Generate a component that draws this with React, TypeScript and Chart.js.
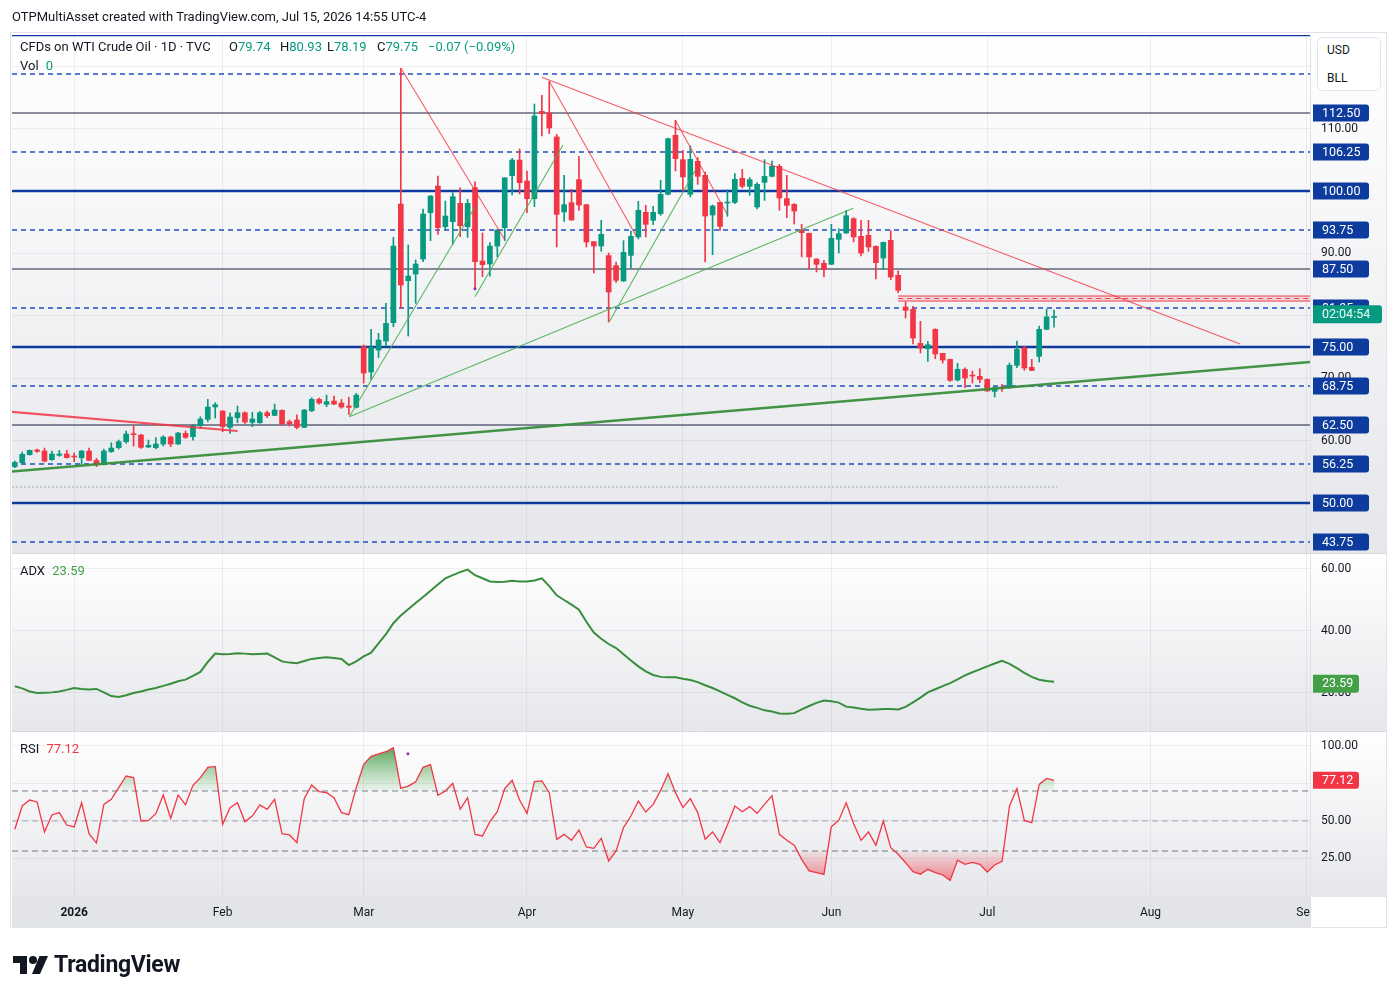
import React, { useEffect, useRef } from 'react';
import { Chart, registerables } from 'chart.js';

Chart.register(...registerables);

const FONT = 'Roboto, "Noto Sans", "DejaVu Sans", sans-serif';
const TXT = '#131722';
const UP = '#089981';
const DOWN = '#f23645';
const GRID = 'rgba(42,46,57,0.07)';

// ---------- data (bar index 0 = Dec 19 2025 ... 140 = Jul 15 2026) ----------
const openP = [
  55.82, 56.46, 57.74, 58.49, 58.33, 56.94, 57.64, 57.85, 57.53, 57.26,
  58.33, 56.83, 56.19, 58.22, 58.86, 59.83, 61.11, 60.89, 58.97, 58.86,
  59.45, 60.57, 59.45, 61.16, 60.63, 62.39, 63.41, 65.40, 64.74, 62.12,
  63.67, 64.47, 62.92, 62.87, 64.47, 64.04, 64.85, 63.03, 63.30, 62.12,
  64.79, 66.61, 65.81, 66.34, 66.02, 65.54, 65.33, 75.05, 71.00, 74.51,
  75.96, 78.90, 97.91, 85.63, 86.69, 89.10, 96.52, 100.80, 94.28, 95.08,
  98.02, 94.28, 100.53, 88.78, 88.30, 91.18, 94.12, 102.45, 104.96, 101.60,
  98.77, 112.77, 112.50, 108.66, 96.64, 98.13, 101.82, 97.81, 91.88, 91.19,
  89.64, 88.04, 85.58, 89.69, 92.63, 96.58, 95.30, 96.37, 99.47, 108.92,
  105.02, 99.47, 104.76, 102.51, 96.16, 98.18, 98.08, 98.18, 102.03, 100.75,
  97.44, 101.39, 102.35, 103.95, 98.77, 97.86, 93.80, 93.22, 89.10, 88.41,
  88.25, 92.25, 93.27, 95.57, 92.74, 92.90, 91.13, 89.26, 92.09, 86.49,
  81.41, 81.03, 75.58, 74.73, 77.83, 73.98, 73.02, 69.71, 71.42, 70.46,
  70.30, 69.81, 67.89, 68.59, 68.48, 72.06, 74.84, 71.74, 73.50, 77.83,
  79.74,
];
const highP = [
  56.73, 58.17, 58.49, 58.65, 58.81, 58.33, 58.44, 58.44, 58.01, 58.44,
  58.81, 57.16, 58.65, 59.67, 60.09, 61.54, 62.39, 61.00, 60.09, 60.47,
  60.79, 60.73, 61.32, 61.54, 62.60, 63.83, 66.61, 66.07, 64.80, 64.47,
  65.54, 64.63, 64.52, 64.69, 64.74, 65.86, 64.95, 63.30, 64.15, 65.01,
  66.88, 66.82, 67.30, 67.14, 66.61, 66.93, 67.57, 75.32, 77.83, 77.19,
  82.00, 92.57, 119.65, 91.34, 88.94, 97.11, 99.30, 102.40, 98.39, 99.73,
  100.53, 98.66, 101.49, 93.27, 91.72, 93.86, 102.12, 105.23, 106.73, 103.20,
  113.94, 115.33, 117.58, 109.08, 102.51, 100.27, 105.56, 97.87, 91.94, 95.30,
  90.07, 88.62, 92.04, 93.59, 98.35, 97.71, 97.55, 101.71, 108.50, 111.33,
  106.52, 107.21, 105.34, 103.05, 97.76, 98.24, 100.21, 102.78, 103.47, 102.14,
  101.34, 105.02, 104.81, 104.27, 102.51, 97.97, 94.66, 93.27, 89.15, 88.89,
  94.66, 93.96, 96.90, 95.73, 95.30, 95.30, 91.20, 91.82, 93.64, 87.20,
  82.21, 81.51, 79.11, 75.91, 77.93, 74.00, 73.05, 72.38, 71.68, 71.15,
  71.52, 69.87, 68.69, 69.01, 72.43, 75.96, 75.16, 73.02, 78.36, 81.09,
  80.93,
];
const lowP = [
  55.66, 56.19, 57.69, 58.12, 56.57, 56.83, 57.48, 57.21, 56.62, 56.09,
  56.78, 55.82, 56.09, 58.12, 58.65, 59.56, 59.13, 58.76, 58.86, 58.65,
  59.13, 59.02, 59.40, 60.36, 60.09, 61.96, 63.03, 63.62, 61.43, 61.16,
  62.87, 62.76, 62.23, 62.76, 63.67, 63.99, 62.55, 62.34, 61.86, 62.07,
  64.63, 65.86, 65.43, 65.75, 65.17, 64.20, 65.22, 69.23, 69.80, 73.29,
  75.15, 78.25, 81.19, 76.76, 82.00, 88.67, 92.04, 93.05, 93.75, 91.45,
  92.68, 92.57, 84.24, 86.27, 86.37, 89.47, 92.04, 99.36, 99.52, 96.52,
  97.48, 108.82, 109.19, 91.03, 95.14, 95.30, 96.90, 91.03, 86.86, 90.33,
  79.01, 85.37, 85.50, 87.66, 92.31, 92.63, 94.61, 96.10, 99.36, 103.21,
  100.11, 99.04, 101.07, 88.62, 89.80, 93.70, 95.94, 97.97, 100.48, 99.31,
  97.12, 98.50, 102.24, 96.90, 95.73, 94.71, 89.42, 87.55, 87.02, 86.22,
  88.20, 90.07, 93.20, 91.83, 89.58, 90.33, 85.90, 87.39, 85.79, 83.70,
  79.64, 75.48, 74.04, 72.70, 73.13, 72.43, 69.49, 69.55, 68.48, 69.23,
  69.28, 67.89, 66.98, 67.89, 68.40, 71.68, 71.26, 71.20, 72.59, 77.80,
  78.19,
];
const closeP = [
  56.51, 57.80, 58.44, 58.28, 56.73, 57.85, 57.85, 57.26, 57.37, 58.33,
  56.83, 56.19, 58.33, 58.81, 59.83, 61.06, 60.95, 58.92, 59.24, 59.45,
  60.57, 59.45, 61.22, 60.52, 62.44, 63.46, 65.38, 65.75, 62.23, 63.78,
  64.47, 62.98, 63.46, 64.47, 63.99, 64.90, 62.66, 62.71, 62.12, 64.90,
  66.61, 66.02, 66.24, 65.86, 65.38, 65.33, 67.30, 70.83, 74.94, 76.12,
  78.79, 91.18, 84.93, 86.37, 88.30, 96.31, 99.19, 94.12, 95.99, 99.09,
  94.44, 98.02, 88.67, 88.19, 91.18, 93.75, 102.12, 104.96, 101.33, 98.77,
  112.02, 112.40, 110.10, 96.26, 97.81, 95.35, 97.76, 91.83, 91.19, 93.06,
  83.82, 85.69, 90.17, 92.74, 96.90, 94.66, 96.58, 99.47, 108.39, 105.18,
  102.25, 105.08, 102.35, 95.99, 97.60, 94.34, 98.24, 101.87, 100.75, 101.82,
  101.07, 102.35, 103.95, 98.88, 97.70, 96.79, 93.32, 89.44, 88.25, 87.39,
  92.42, 93.16, 96.05, 92.63, 90.06, 91.03, 88.52, 91.77, 86.22, 84.08,
  80.87, 76.44, 74.84, 75.37, 73.87, 72.91, 69.65, 71.42, 70.03, 70.35,
  69.81, 67.95, 68.48, 68.43, 72.06, 74.62, 71.63, 71.26, 77.83, 79.82,
  79.75,
];
const adxValues = [
  22.2, 21.5, 20.5, 20.0, 20.1, 20.2, 20.5, 21.0, 21.6, 21.3,
  21.1, 21.3, 20.2, 19.0, 18.7, 19.3, 20.0, 20.5, 21.1, 21.6,
  22.3, 23.0, 23.8, 24.3, 25.5, 26.8, 30.0, 32.7, 32.5, 32.6,
  32.8, 32.7, 32.5, 32.6, 32.7, 31.5, 30.2, 29.8, 29.6, 30.3,
  31.0, 31.3, 31.5, 31.3, 31.0, 29.0, 30.2, 31.8, 33.0, 36.0,
  39.0, 42.5, 45.0, 47.0, 49.0, 51.0, 53.0, 55.0, 57.0, 58.0,
  59.0, 59.8, 58.0, 57.0, 56.0, 55.8, 55.9, 56.2, 56.0, 56.0,
  56.3, 57.0, 54.5, 51.5, 50.0, 48.5, 46.9, 43.0, 39.5, 37.5,
  35.8, 34.5, 32.5, 30.5, 28.6, 27.0, 25.8, 25.2, 25.1, 25.1,
  24.6, 24.2, 23.5, 22.5, 21.6, 20.5, 19.4, 18.3, 17.0, 15.9,
  15.2, 14.4, 14.0, 13.4, 13.3, 13.5, 14.7, 15.8, 16.8, 17.6,
  17.3, 16.9, 15.6, 15.3, 14.9, 14.6, 14.7, 14.8, 14.8, 14.7,
  15.5, 17.0, 18.5, 20.2, 21.2, 22.2, 23.2, 24.4, 25.7, 26.7,
  27.6, 28.6, 29.5, 30.4, 29.4, 28.0, 26.5, 25.2, 24.3, 23.9,
  23.59,
];
const rsiValues = [
  44.4, 60.0, 64.0, 62.7, 42.7, 54.0, 55.6, 47.3, 46.0, 62.2,
  41.6, 35.3, 61.1, 64.4, 72.2, 80.0, 78.9, 50.0, 50.4, 54.9,
  67.3, 51.8, 67.3, 60.9, 73.8, 78.9, 85.8, 86.4, 47.8, 58.9,
  62.2, 49.6, 53.3, 60.7, 57.8, 64.4, 41.6, 40.7, 35.6, 65.1,
  74.0, 69.6, 68.9, 65.6, 55.6, 54.2, 72.2, 87.8, 93.1, 94.7,
  96.2, 98.9, 71.8, 73.3, 76.2, 85.8, 87.6, 67.1, 70.0, 75.1,
  57.8, 65.6, 41.1, 40.0, 49.6, 56.2, 71.6, 77.1, 64.0, 55.1,
  76.2, 76.7, 68.9, 37.8, 41.1, 37.1, 44.0, 32.7, 31.8, 38.4,
  23.3, 30.0, 45.6, 53.3, 63.3, 56.0, 61.1, 70.4, 81.6, 68.9,
  58.9, 64.9, 55.6, 37.8, 42.7, 35.6, 47.3, 60.0, 56.2, 59.6,
  55.1, 61.1, 66.9, 41.1, 37.1, 33.8, 24.4, 16.7, 15.6, 14.4,
  46.2, 50.4, 62.2, 48.2, 37.1, 42.7, 33.8, 50.0, 32.2, 27.8,
  22.2, 16.2, 14.4, 17.8, 15.6, 14.0, 10.4, 23.8, 21.1, 22.4,
  21.1, 16.0, 20.7, 23.1, 60.0, 71.6, 50.4, 48.9, 74.4, 78.4,
  77.12,
];

const monthTickIdx = [8, 28, 47, 69, 90, 110, 131, 153, 174];
const monthLabels = ['2026', 'Feb', 'Mar', 'Apr', 'May', 'Jun', 'Jul', 'Aug', 'Sep'];
const priceTicks = [50, 60, 70, 80, 90, 100, 110, 120];
const adxTicks = [20, 40, 60];
const rsiTicks = [25, 50, 75, 100];

const thickLevels = [125, 100, 75, 50];
const thinLevels = [112.5, 87.5, 62.5];
const dashedLevels = [118.75, 106.25, 93.75, 81.25, 68.75, 56.25, 43.75];
const labelLevels = [112.5, 106.25, 100, 93.75, 87.5, 81.25, 75, 68.75, 62.5, 56.25, 50, 43.75];
const rsiBands = [70, 30];
const rsiMid = [50];

const redThickLines = [[[-0.65, 64.63], [30.02, 61.54]]];
const redThinLines = [
  [[52.03, 119.66], [66.03, 92.15]],
  [[71.99, 117.63], [83.69, 92.84]],
  [[70.99, 118.22], [165.08, 75.48]],
  [[88.97, 111.38], [95.95, 96.31]],
];
const greenThickLines = [[[-0.65, 55.02], [174.48, 72.6]]];
const greenThinLines = [
  [[45.06, 63.83], [61.99, 97.44]],
  [[61.99, 83.06], [73.85, 107.37]],
  [[80.09, 79.05], [91.76, 103.5]],
  [[45.06, 63.83], [112.96, 97.23]],
];
const zoneStart = 119.0;
const zoneTop = 83.17;
const zoneBottom = 82.37;
const zoneMid = 82.77;
const dottedLevel = 52.56;
const dottedEnd = 140.44;
const pricePivots = [[61.99, 84.35]];
const rsiPivots = [[52.96, 94.9]];
const lastPrice = 79.75;
const lastAdx = 23.59;
const lastRsi = 77.12;
const countdown = '02:04:54';

const X_MIN = -0.377;
const X_MAX = 174.48;

type P = { x: number; y: number | null };
const hLineData = (levels: number[], x0 = X_MIN, x1 = X_MAX): P[] =>
  levels.flatMap((l) => [{ x: x0, y: l }, { x: x1, y: l }, { x: x1, y: null }]);
const segData = (lines: number[][][]): P[] =>
  lines.flatMap(([a, b]) => [{ x: a[0], y: a[1] }, { x: b[0], y: b[1] }, { x: b[0], y: null }]);

function drawBox(ctx: CanvasRenderingContext2D, x: number, yc: number, w: number, h: number, bg: string, text: string, fg: string) {
  ctx.fillStyle = bg;
  ctx.beginPath();
  (ctx as any).roundRect(x, yc - h / 2, w, h, [0, 3, 3, 0]);
  ctx.fill();
  ctx.fillStyle = fg;
  ctx.font = `12.5px ${FONT}`;
  ctx.textBaseline = 'middle';
  ctx.textAlign = 'left';
  ctx.fillText(text, x + 9, yc + 0.5);
}

const panePlugin = {
  id: 'panePlugin',
  beforeDraw(chart: any) {
    const { ctx, chartArea } = chart;
    const right = chart.scales.y.right;
    ctx.save();
    for (const id of ['y', 'yA', 'yR']) {
      const s = chart.scales[id];
      const g = ctx.createLinearGradient(0, s.top, 0, s.bottom);
      g.addColorStop(0, '#ffffff');
      g.addColorStop(1, '#e6e7eb');
      ctx.fillStyle = g;
      ctx.fillRect(chartArea.left, s.top, right - chartArea.left, s.bottom - s.top);
    }
    const xs = chart.scales.x;
    ctx.fillStyle = '#e3e4e8';
    ctx.fillRect(chartArea.left, xs.top, chartArea.right - chartArea.left, xs.bottom - xs.top);
    ctx.restore();
  },
  afterDraw(chart: any) {
    const { ctx, chartArea } = chart;
    const ys = chart.scales.y;
    const ya = chart.scales.yA;
    const yr = chart.scales.yR;
    const xs = chart.scales.x;
    ctx.save();
    // cover the time-axis corner under the price scale (clips the last month label)
    ctx.fillStyle = '#ffffff';
    ctx.fillRect(chartArea.right + 0.5, xs.top, ys.right - chartArea.right, xs.bottom - xs.top);
    ctx.strokeStyle = '#dfe1e6';
    ctx.lineWidth = 1;
    ctx.beginPath();
    ctx.moveTo(Math.round(chartArea.right) + 0.5, xs.top);
    ctx.lineTo(Math.round(chartArea.right) + 0.5, xs.bottom);
    ctx.stroke();
    // pane separators
    ctx.strokeStyle = '#d6d8de';
    for (const s of [ya, yr]) {
      ctx.beginPath();
      ctx.moveTo(chartArea.left, Math.round(s.top) + 0.5);
      ctx.lineTo(ys.right, Math.round(s.top) + 0.5);
      ctx.stroke();
    }
    // outer frame
    ctx.strokeStyle = '#e0e3eb';
    ctx.strokeRect(chartArea.left - 1.5, 32.5, ys.right - chartArea.left + 1, xs.bottom - 32);
    // price labels
    const bx = ys.left + 3;
    for (const lv of labelLevels) {
      drawBox(ctx, bx, ys.getPixelForValue(lv), 56, 17, '#0d3b9e', lv.toFixed(2), '#ffffff');
    }
    drawBox(ctx, bx, ys.getPixelForValue(lastPrice) - 3, 69, 18, UP, countdown, '#eafff8');
    drawBox(ctx, bx, ya.getPixelForValue(lastAdx) + 2, 46, 18, '#43a047', lastAdx.toFixed(2), '#ffffff');
    drawBox(ctx, bx, yr.getPixelForValue(lastRsi), 46, 17, DOWN, lastRsi.toFixed(2), '#ffffff');
    ctx.restore();
  },
};

const tickFont = { family: FONT, size: 12 };

export default function App() {
  const ref = useRef<HTMLCanvasElement>(null);

  useEffect(() => {
    const canvas = ref.current!;
    const idx = closeP.map((_, i) => i);
    const colors = idx.map((i) => (closeP[i] >= openP[i] ? UP : DOWN));

    const line = (data: P[], color: string, width: number, extra: any = {}) => ({
      type: 'line',
      data,
      borderColor: color,
      borderWidth: width,
      pointRadius: 0,
      fill: false,
      yAxisID: 'y',
      ...extra,
    });

    const rsiUpperFill: any = {
      type: 'line',
      data: idx.map((i) => ({ x: i, y: rsiValues[i] })),
      borderWidth: 0,
      borderColor: 'rgba(0,0,0,0)',
      pointRadius: 0,
      yAxisID: 'yR',
      order: 4,
      fill: { target: { value: 70 }, above: 'rgba(76,175,80,0.3)', below: 'rgba(0,0,0,0)' },
    };
    const rsiLowerFill: any = {
      type: 'line',
      data: idx.map((i) => ({ x: i, y: rsiValues[i] })),
      borderWidth: 0,
      borderColor: 'rgba(0,0,0,0)',
      pointRadius: 0,
      yAxisID: 'yR',
      order: 4,
      fill: { target: { value: 30 }, above: 'rgba(0,0,0,0)', below: 'rgba(242,54,69,0.3)' },
    };

    const datasets: any[] = [
      line(hLineData(thickLevels), '#0d3b9e', 2.5, { order: 10 }),
      line(hLineData(thinLevels), '#1a1f3d', 1, { order: 10 }),
      line(hLineData(dashedLevels), '#1f4fc4', 1.3, { order: 10, borderDash: [5, 4] }),
      line(hLineData([dottedLevel], X_MIN, dottedEnd), '#a3a6af', 1, { order: 9, borderDash: [2, 2] }),
      line([{ x: zoneStart, y: zoneBottom }, { x: X_MAX, y: zoneBottom }], DOWN, 1, {
        order: 8,
        fill: { value: zoneTop },
        backgroundColor: 'rgba(242,54,69,0.13)',
      }),
      line([{ x: zoneStart, y: zoneTop }, { x: X_MAX, y: zoneTop }], DOWN, 1, { order: 8 }),
      line([{ x: zoneStart, y: zoneMid }, { x: X_MAX, y: zoneMid }], DOWN, 1, { order: 8, borderDash: [5, 4] }),
      {
        type: 'bar',
        data: idx.map((i) => ({ x: i, y: [lowP[i], highP[i]] })),
        backgroundColor: colors,
        borderWidth: 0,
        barThickness: 1,
        grouped: false,
        yAxisID: 'y',
        order: 6,
      },
      {
        type: 'bar',
        data: idx.map((i) => ({ x: i, y: [openP[i], closeP[i]] })),
        backgroundColor: colors,
        borderWidth: 0,
        barThickness: 5,
        minBarLength: 1,
        grouped: false,
        yAxisID: 'y',
        order: 5,
      },
      line(segData(redThickLines), 'rgba(242,54,69,0.85)', 2.2, { order: 3 }),
      line(segData(redThinLines), 'rgba(242,54,69,0.8)', 1.1, { order: 3 }),
      line(segData(greenThickLines), 'rgba(56,142,60,0.95)', 2.5, { order: 3 }),
      line(segData(greenThinLines), 'rgba(76,175,80,0.9)', 1.1, { order: 3 }),
      line(pricePivots.map(([x, y]) => ({ x, y })), '#9c27b0', 0, {
        order: 2, showLine: false, pointRadius: 1.5, pointBackgroundColor: '#9c27b0', pointBorderWidth: 0,
      }),
      line(idx.map((i) => ({ x: i, y: adxValues[i] })), '#388e3c', 2, { order: 1, yAxisID: 'yA' }),
      line(hLineData(rsiBands), '#787b86', 1, { order: 10, yAxisID: 'yR', borderDash: [6, 4] }),
      line(hLineData(rsiMid), 'rgba(120,123,134,0.6)', 1, { order: 10, yAxisID: 'yR', borderDash: [6, 4] }),
      rsiUpperFill,
      rsiLowerFill,
      line(idx.map((i) => ({ x: i, y: rsiValues[i] })), DOWN, 1.3, { order: 1, yAxisID: 'yR' }),
      line(rsiPivots.map(([x, y]) => ({ x, y })), '#9c27b0', 0, {
        order: 2, yAxisID: 'yR', showLine: false, pointRadius: 1.5, pointBackgroundColor: '#9c27b0', pointBorderWidth: 0,
      }),
    ];

    const yScale = (weight: number, min: number, max: number, ticksArr: number[]) => ({
      type: 'linear',
      position: 'right',
      stack: 'panes',
      stackWeight: weight,
      min,
      max,
      afterBuildTicks: (s: any) => {
        s.ticks = ticksArr.map((v) => ({ value: v }));
      },
      afterFit: (s: any) => {
        s.width = 77;
      },
      grid: { color: GRID, drawTicks: false },
      border: { color: '#dfe1e6' },
      ticks: {
        padding: 11,
        color: TXT,
        font: tickFont,
        callback: (v: any) => Number(v).toFixed(2),
      },
    });

    const chart = new Chart(canvas, {
      type: 'bar',
      data: { datasets },
      options: {
        animation: false,
        responsive: false,
        devicePixelRatio: 1,
        events: [],
        layout: { padding: { left: 12, top: 35, right: 10, bottom: 69 } },
        plugins: { legend: { display: false }, tooltip: { enabled: false } },
        elements: { point: { radius: 0, hoverRadius: 0 }, line: { tension: 0 } },
        scales: {
          x: {
            type: 'linear',
            position: 'bottom',
            min: X_MIN,
            max: X_MAX,
            offset: false,
            grid: { color: GRID, drawTicks: false, offset: false },
            border: { display: false },
            afterBuildTicks: (s: any) => {
              s.ticks = monthTickIdx.map((v) => ({ value: v }));
            },
            afterFit: (s: any) => {
              s.height = 30;
            },
            ticks: {
              autoSkip: false,
              maxRotation: 0,
              padding: 9,
              color: TXT,
              font: (c: any) => ({
                family: FONT,
                size: 12,
                weight: c.tick && c.tick.value === monthTickIdx[0] ? 'bold' : 'normal',
              }),
              callback: (v: any) => {
                const k = monthTickIdx.indexOf(Number(v));
                return k >= 0 ? monthLabels[k] : '';
              },
            },
          },
          y: yScale(518, 41.99, 125, priceTicks),
          yA: yScale(178, 7.74, 65.16, adxTicks),
          yR: yScale(166, -0.67, 110, rsiTicks),
        } as any,
      },
      plugins: [panePlugin],
    } as any);

    // gradient fills for RSI overbought / oversold areas
    const yr: any = chart.scales.yR;
    const ctx = chart.ctx;
    const gUp = ctx.createLinearGradient(0, yr.getPixelForValue(100), 0, yr.getPixelForValue(70));
    gUp.addColorStop(0, 'rgba(56,142,60,0.85)');
    gUp.addColorStop(1, 'rgba(76,175,80,0.06)');
    const gDn = ctx.createLinearGradient(0, yr.getPixelForValue(30), 0, yr.getPixelForValue(5));
    gDn.addColorStop(0, 'rgba(242,54,69,0.06)');
    gDn.addColorStop(1, 'rgba(242,54,69,0.7)');
    rsiUpperFill.fill = { target: { value: 70 }, above: gUp, below: 'rgba(0,0,0,0)' };
    rsiLowerFill.fill = { target: { value: 30 }, above: 'rgba(0,0,0,0)', below: gDn };
    chart.update('none');

    return () => chart.destroy();
  }, []);

  const abs = (left: number, top: number, extra: any = {}) => ({
    position: 'absolute' as const,
    left,
    top,
    whiteSpace: 'nowrap' as const,
    lineHeight: '16px',
    ...extra,
  });

  return (
    <div
      style={{
        position: 'fixed',
        left: 0,
        top: 0,
        width: 1397,
        height: 996,
        background: '#ffffff',
        overflow: 'hidden',
        fontFamily: FONT,
        color: TXT,
      }}
    >
      <canvas ref={ref} width={1397} height={996} style={{ position: 'absolute', left: 0, top: 0, width: 1397, height: 996 }} />
      <div style={abs(12, 9, { fontSize: 13 })}>OTPMultiAsset created with TradingView.com, Jul 15, 2026 14:55 UTC-4</div>
      <div style={abs(20, 39, { fontSize: 13 })}>CFDs on WTI Crude Oil · 1D · TVC</div>
      <div style={abs(229, 39, { fontSize: 13 })}>
        O<span style={{ color: UP }}>79.74</span>
      </div>
      <div style={abs(280, 39, { fontSize: 13 })}>
        H<span style={{ color: UP }}>80.93</span>
      </div>
      <div style={abs(327, 39, { fontSize: 13 })}>
        L<span style={{ color: UP }}>78.19</span>
      </div>
      <div style={abs(377, 39, { fontSize: 13 })}>
        C<span style={{ color: UP }}>79.75</span>
      </div>
      <div style={abs(428, 39, { fontSize: 13, color: UP })}>−0.07 (−0.09%)</div>
      <div style={abs(20, 58, { fontSize: 13 })}>
        Vol <span style={{ color: UP, marginLeft: 4 }}>0</span>
      </div>
      <div style={abs(20, 563, { fontSize: 13 })}>
        ADX <span style={{ color: '#43a047', marginLeft: 4 }}>23.59</span>
      </div>
      <div style={abs(20, 741, { fontSize: 13 })}>
        RSI <span style={{ color: DOWN, marginLeft: 4 }}>77.12</span>
      </div>
      <div
        style={{
          position: 'absolute',
          left: 1317,
          top: 37,
          width: 64,
          height: 54,
          boxSizing: 'border-box',
          border: '1px solid #e0e3eb',
          borderRadius: 6,
          background: '#ffffff',
        }}
      >
        <div style={abs(9, 4, { fontSize: 12 })}>USD</div>
        <div style={abs(9, 32, { fontSize: 12 })}>BLL</div>
      </div>
      <div style={{ position: 'absolute', left: 13, top: 951, display: 'flex', alignItems: 'center' }}>
        <svg width="36" height="22" viewBox="0 0 36 22">
          <path d="M14 20H7V9H0V2h14v18z" fill="#131722" />
          <circle cx="20" cy="6" r="4" fill="#131722" />
          <path d="M27 20h-8l7.5-18H35l-8 18z" fill="#131722" />
        </svg>
        <span style={{ fontSize: 23, fontWeight: 700, marginLeft: 5, letterSpacing: -0.3, color: '#131722' }}>TradingView</span>
      </div>
    </div>
  );
}
